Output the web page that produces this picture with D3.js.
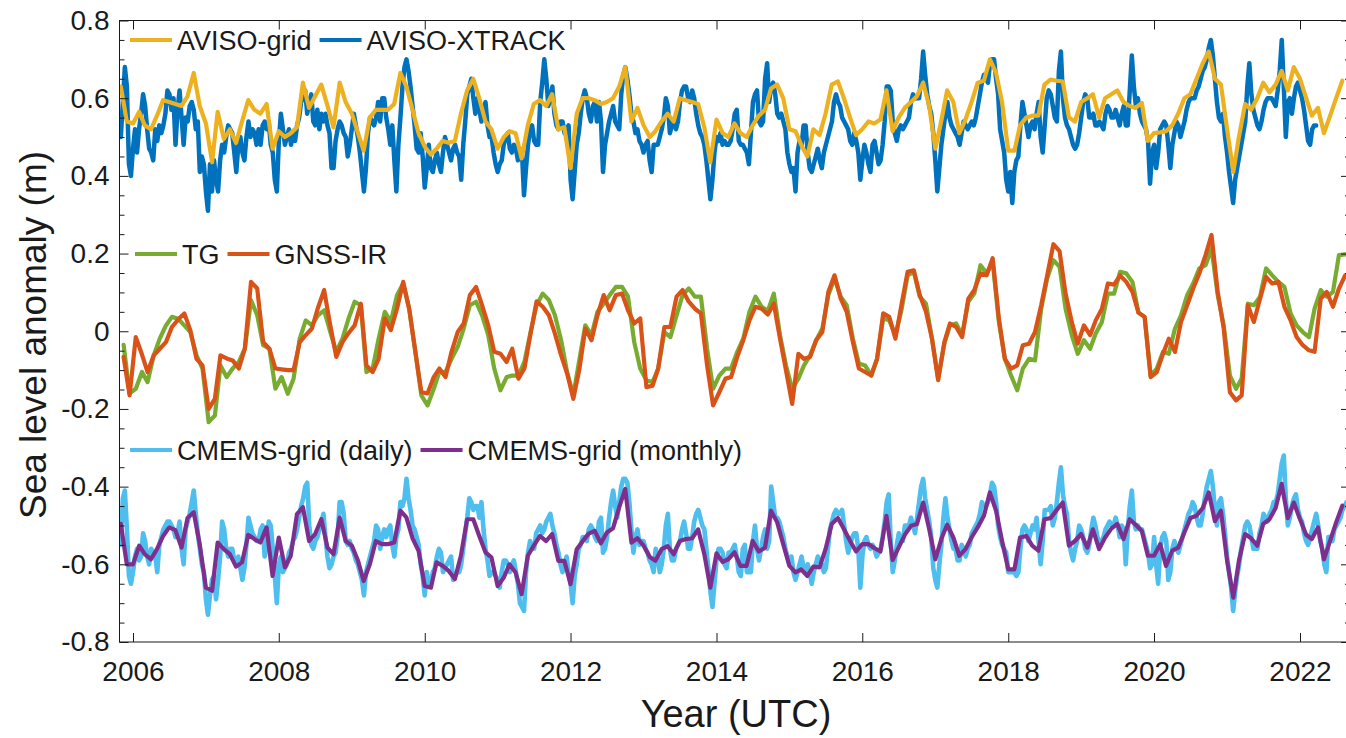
<!DOCTYPE html>
<html>
<head>
<meta charset="utf-8">
<script src="https://cdn.jsdelivr.net/npm/d3@7"></script>
<style>
  body { margin: 0; background: #fff; }
  svg { display: block; }
  text { font-family: "Liberation Sans", Arial, Helvetica, sans-serif; }
</style>
</head>
<body>
<svg id="chart" width="1346" height="738"></svg>
<script>
// ---------------------------------------------------------------------------
// Sea level anomaly series (values in cm, bands offset for display).
// Monthly series start Nov 2005; ~10-day series use a third-of-a-month step.
// ---------------------------------------------------------------------------

// AVISO-grid, monthly (month start)
const avisoGrid = [
  63,54,53.5,56.5,53,52,55.5,59.5,59,58.5,58,60.5,66.5,58,53.5,43.5,56.5,49.5,52,48.5,
  54,59.5,57,56,58.5,47,51.5,50,51,52.5,64,57.5,60.5,63.5,58,52.5,64,59,56,51,
  46.5,55,57,57,57,58.5,66.5,63,57,51,47.5,45.5,47,49,48.5,49,56,62,65,60,
  54,52,47,50,51.5,51,44.5,53,58.5,59.5,58,61,52,52.5,42,56,60,60,59.5,58.5,
  59,60,63,68,54,57.5,53,50,51.5,54,56,54,60,59.5,59,58.5,52.5,43.5,54.5,51,
  50,53.5,51,50,53,55.5,57,62.5,63.5,60,52,51.5,48,45,52,50.5,56,63.5,64.3,60,
  55,50.5,52,54,53.5,54.5,62,51.5,55,57.5,59,60.5,64,58,47,54.5,62,59,51,54.5,
  59,64,64.5,70,66.5,59,46.5,46.5,53,55,55.5,55.5,63.5,64.8,64.5,64.3,55,54,59,60,
  61,55,60,61,62,59,58,57.5,58.8,49,51,51.2,51.5,53,56,60,61,65,69,72,
  65,63.5,52,41,50,58.5,57,60,64,61.5,63.5,67,62,68,65,60,55.5,57.5,51,55.5,
  60,64.5
];

// AVISO-XTRACK, ~10-day
const avisoXtrack = [
  50,59,68,63,43,40,47,52,46,52, 56,61,58,52,47,46,44,52,49,53,
  51,53,56,62,61,57,60,48,57,62, 55,48,55,54,58,59,57,52,54,41,
  45,43,36,31,43,36,44,39,36,44, 48,46,50,53,52,51,46,41,48,50,
  46,44,50,54,50,52,51,48,52,48, 53,54,52,54,48,46,39,36,49,56,
  52,48,50,52,48,51,49,53,55,59, 60,62,56,59,61,54,53,57,52,56,
  54,56,53,51,42,42,49,52,54,53, 51,50,45,48,52,56,53,50,46,41,
  36,42,51,55,54,53,55,59,54,60, 60,55,52,48,53,44,36,48,55,63,
  68,70,67,63,58,53,47,46,51,45,37,
  42,48,42,41,44,46,43,41,46,50, 48,46,44,47,48,46,45,39,48,54,
  61,63,65,60,56,60,57,54,57,59, 53,50,50,46,43,41,43,44,48,50,
  51,47,46,48,47,44,47,46,35,42, 48,52,53,49,48,48,59,64,70,65,
  58,60,63,56,53,52,54,54,51,52, 53,39,34,41,48,51,56,60,62,60,
  56,54,58,59,54,59,54,41,48,51, 54,56,58,54,53,52,61,66,68,65,
  61,56,54,51,52,49,48,46,48,49, 44,41,48,48,48,50,52,55,60,58,
  51,53,54,52,54,59,62,63,63,60, 59,62,60,56,53,51,50,48,44,39,
  34,39,46,50,49,51,48,49,48,48, 49,52,56,57,49,48,48,47,46,43,
  51,59,61,62,54,53,54,65,69,59, 63,64,61,56,55,56,54,52,46,43,
  41,42,36,46,49,48,53,53,46,42, 41,43,45,47,44,42,46,48,50,52,
  54,59,61,59,58,55,54,53,52,49, 48,51,49,46,39,44,48,46,43,41,
  48,49,46,43,44,48,54,63,63,62, 54,51,49,52,53,52,53,54,55,59,
  61,60,60,60,65,72,66,61,58,56, 51,44,36,42,48,52,56,59,55,53,
  52,51,50,48,51,54,53,52,53,54, 53,55,58,61,64,66,65,64,69,70,
  70,65,61,52,49,46,39,36,41,33,
  41,44,45,53,59,56,53,50,53,54,52,
  56,59,50,46,53,60,62,61,58,55, 54,67,72,60,55,53,52,50,48,47,
  48,51,55,59,61,60,55,55,56,53, 53,54,53,52,56,58,57,55,55,57,
  55,53,56,58,53,53,62,71,63,58, 60,56,54,53,52,49,38,46,48,42,
  46,52,53,54,53,48,42,48,51,54, 53,50,52,54,57,59,60,60,60,62,
  63,65,67,68,70,73,75,71,65,59, 55,54,56,50,46,41,37,33,39,42,
  45,48,51,54,63,69,61,57,55,53, 52,54,57,59,60,60,60,59,58,62,
  67,75,63,50,59,60,56,60,63,64,
  62,60,57,53,49,48,52,53,53
];

// Tide gauge, monthly (mid-month)
const tideGauge = [
  -3.5,-16,-14.8,-10.5,-13.1,-6.2,-1.9,1.5,3.7,3.2, 1.5,-0.2,-6.2,-9.6,-23.4,-21.7,-8.8,-11.8,-9.6,-7.9,
  -4.5,8,4.1,-3.6,-4.5,-14.8,-11.8,-16.1,-12.2,-1.9, 2.8,1.5,4.1,5.4,-0.2,-5.3,-1.9,3.2,7.6,6.7,
  -10.5,-9.6,-1.9,5,2.4,9.3,12.3,5.8,-5.3,-16.5, -19.1,-14.8,-10.5,-10.5,-7.1,-4,0.7,6.7,7.6,4.1,
  -1,-9.6,-15.2,-11.8,-11.4,-11.4,-7.9,-0.2,6.7,9.7, 8,4.1,-2.3,-10.5,-16.5,-7.1,1.5,-1,5,7.1,
  9.3,11.4,11.4,8.9,-2.8,-9.6,-12.6,-13.1,-9.6,-0.2, -1.5,4.1,9.3,11,8.9,8.9,-4.5,-14.8,-11.4,-9.6,
  -9.6,-5.3,-1.9,5,8.9,6.3,5.2,9.7,-1,-8.8, -14.8,-12.2,-8.8,-6.2,-2.3,0.7,9.3,13.6,8.9,6.7,
  -1.9,-8.3,-8.8,-11.4,-7.1,3.3,2.8,-1,5.4,14.4, 15.3,8.9,7.1,-1.9,-12.2,-3.2,1.5,2,-1,7.6,
  9.7,17,14.9,17.9,2.4,-7.1,-11.4,-15.2,-9.6,-7.1, -7.5,5.8,13.6,18.3,16.6,5.8,-1,-5.8,-2.3,-4.5,
  -0.6,2.4,9.7,9.7,15.3,14.9,12.7,4.8,3.7,-11.4, -9.6,-5.3,-5.8,0.7,4.1,9.3,12.3,16.2,17,21.3,
  9.3,1.5,-11.4,-14.8,-12.2,7.1,6.7,8.9,16.2,14.4, 12.7,11.4,4.6,1.5,-0.2,-1.5,5.8,10.6,8.9,10.1,
  19.6,19.8
];

// GNSS-IR, monthly (mid-month)
const gnssIR = [
  -6.6,-16.5,-1.5,-6,-10.5,-6.2,-4.5,-2.8,1.1,3, 4.6,0.3,-7.1,-8.8,-20,-17.4,-6.2,-7,-7.5,-9.6,
  -4.5,12.7,11,-2.8,-4.5,-9.6,-9.8,-10,-10,-2.8, -1,0.7,6,10.6,1.5,-6.6,-2.8,-0.5,1.5,7.1,
  -8.8,-10.5,-7.1,3.3,0.3,5.8,12.7,5.8,-5.3,-15.7, -16,-11.8,-9.6,-11.8,-5.3,-0.2,2,9.3,11.4,6.7,
  1.5,-5.3,-5.8,-7.9,-4.5,-12.2,-9.6,-0.6,7.7,6.3, 4.1,-0.6,-6.2,-10.9,-17.4,-9.6,0.7,-2.3,4.1,9.3,
  5.4,9.3,9.7,5.4,2,3.3,-14.4,-14,-9.6,1.1, 1.1,8.9,10.6,7.6,5.8,4.6,-8.8,-19.1,-15.7,-12.2,
  -11.8,-6.6,-2.3,2.8,6.3,5.8,4.3,7.1,-1.9,-10.1, -18.7,-5.8,-7.1,-6.6,-2.3,-0.2,10.1,14.4,8.4,5,
  -2.8,-9.6,-10.5,-11.4,-7.1,4.6,3.7,-1.9,6.7,15.3, 15.7,9.3,5,-1.9,-12.6,-2.8,2,1.1,-1.5,8.4,
  10.6,14.9,14.4,18.8,3.3,-7.1,-9.6,-8.8,-3.6,-3.2, -0.2,6.7,14.4,22.4,20.6,9.7,2.4,-3.2,1.5,-1,
  2.8,5.8,12.3,12,14.4,12.7,10.1,4.8,3.7,-11.8, -10.5,-5.8,-1.9,-5.3,2.4,6.7,11,14.9,19.6,24.8,
  10.1,0.7,-15.7,-17.8,-16.5,6.7,2.4,8.4,14,12.3, 12.7,6.3,2.8,-1.5,-3.6,-4.9,-5.3,8.4,10.1,6.3,
  11,14.4
];

// CMEMS-grid, daily product sampled every third of a month
const cmemsDaily = [
  -55,-43,-41,-51,-63,-65,-62,-58,-56,-59, -58,-52,-54,-58,-60,-56,-57,-58,-62,-55,
  -53,-51,-50,-49,-49,-50,-51,-53,-52,-49, -56,-60,-51,-49,-47,-44,-41,-47,-52,-56,
  -60,-62,-69,-73,-68,-64,-63,-69,-64,-58, -49,-51,-56,-58,-56,-56,-59,-60,-58,-61,
  -64,-61,-55,-48,-50,-52,-53,-54,-54,-51, -50,-58,-55,-49,-50,-56,-63,-70,-60,-58,
  -62,-61,-60,-57,-56,-54,-53,-51,-48,-45, -43,-40,-39,-50,-55,-56,-54,-53,-51,-49,
  -47,-53,-58,-61,-60,-58,-57,-53,-44,-44, -47,-54,-55,-54,-56,-57,-59,-60,-62,-64,
  -68,-62,-60,-58,-56,-54,-50,-51,-56,-53, -51,-53,-51,-50,-55,-58,-53,-51,-44,-45,
  -43,-38,-43,-46,-50,-51,-53,-55,-60,-63,-68,
  -62,-65,-65,-62,-61,-58,-56,-57,-62,-61, -60,-59,-58,-64,-63,-62,-62,-60,-56,-52,
  -48,-43,-44,-46,-45,-45,-48,-44,-51,-56, -59,-63,-62,-62,-63,-64,-66,-62,-59,-59,
  -60,-62,-60,-59,-62,-65,-70,-71,-72,-62, -57,-54,-56,-56,-52,-51,-50,-52,-51,-49,
  -48,-47,-50,-52,-55,-57,-60,-62,-60,-58, -62,-65,-70,-63,-60,-56,-55,-53,-53,-54,
  -51,-50,-51,-53,-54,-49,-48,-57,-56,-53, -48,-44,-41,-45,-48,-44,-40,-38,-38,-39,
  -44,-51,-57,-53,-51,-55,-54,-54,-56,-57, -59,-60,-62,-56,-58,-62,-60,-56,-50,-47,
  -56,-59,-59,-56,-55,-54,-51,-49,-52,-56, -56,-53,-49,-47,-46,-48,-50,-51,-56,-61,
  -67,-71,-65,-59,-56,-56,-57,-60,-61,-57, -57,-56,-55,-58,-62,-63,-56,-55,-62,-62,
  -62,-54,-50,-56,-59,-56,-53,-51,-56,-54, -40,-44,-48,-48,-49,-51,-53,-56,-58,-60,
  -58,-62,-64,-62,-60,-58,-61,-62,-60,-62, -65,-62,-60,-58,-59,-60,-62,-61,-56,-51,
  -49,-47,-46,-47,-47,-46,-50,-54,-57,-55, -53,-52,-52,-56,-66,-58,-54,-53,-55,-56,
  -55,-56,-58,-57,-56,-53,-49,-44,-42,-54, -62,-59,-55,-52,-54,-54,-50,-50,-50,-48,
  -50,-52,-48,-44,-40,-38,-43,-46,-49,-53, -61,-64,-66,-60,-55,-48,-43,-48,-51,-54,
  -56,-56,-59,-59,-55,-56,-58,-56,-55,-52, -51,-50,-49,-47,-44,-45,-45,-44,-42,-39,
  -40,-44,-50,-53,-55,-56,-57,-62,-62,-62,
  -62,-63,-62,-56,-51,-50,-51,-54,-52,-50,-51,
  -48,-54,-60,-54,-46,-46,-46,-45,-50,-48, -44,-39,-35,-42,-45,-47,-54,-57,-59,-56,
  -54,-50,-51,-53,-56,-57,-55,-51,-48,-50, -53,-55,-54,-53,-51,-50,-49,-50,-50,-48,
  -50,-53,-50,-51,-60,-51,-45,-41,-49,-51, -50,-51,-51,-53,-55,-57,-61,-60,-53,-60,
  -65,-56,-53,-52,-54,-64,-62,-56,-54,-56, -57,-55,-53,-51,-49,-47,-46,-44,-45,-48,
  -50,-50,-47,-43,-40,-38,-36,-40,-46,-50, -44,-43,-47,-52,-58,-62,-66,-72,-67,-63,
  -60,-56,-53,-50,-49,-50,-53,-56,-56,-56, -52,-50,-47,-48,-49,-47,-46,-44,-44,-42,
  -38,-34,-32,-43,-50,-48,-45,-43,-42,-46, -48,-49,-52,-54,-55,-53,-51,-49,-47,-50,
  -54,-56,-60,-62,-53,-53,-54,-51,-50,-49,-48,-46,-45,-44
];

// CMEMS-grid, monthly (month start)
const cmemsMonthly = [
  -49.6,-60,-60,-55.2,-57.4,-58.7,-56.1,-52.7,-50.5,-51.2, -55.7,-48.1,-46.6,-54.8,-66,-66.8,-54.4,-56.1,-57.4,-60.6,
  -59.5,-52.4,-53.5,-54.4,-50.5,-63,-53.1,-60.8,-57.8,-47.1, -45.3,-54,-52.2,-48.4,-55.7,-57.4,-48,-54,-55.2,-59.1,
  -64.3,-60,-54,-54.8,-54.8,-54.4,-46.2,-47.9,-53.3,-56.5, -65.6,-66,-59.5,-60.4,-61.7,-63.8,-57.8,-48.4,-48.4,-52.7,
  -56.9,-58.2,-65.6,-63.4,-60,-62.1,-67.7,-57.8,-55.2,-52.7, -54,-52.2,-59.1,-59.1,-65.1,-56.1,-54.1,-52.1,-51.4,-54.6,
  -51.8,-50.7,-45.3,-40.6,-54.4,-53.3,-55.2,-58.1,-59.1,-56.1, -55.3,-57.4,-54,-53.5,-53.3,-51,-57.4,-66,-57.2,-59.4,
  -58.7,-56.9,-60.4,-60.4,-54,-56.7,-55.7,-46.2,-49.2,-54.8, -60.4,-62.1,-61.3,-63,-60.6,-60.8,-56.1,-49.6,-48.1,-50.9,
  -54,-56.7,-54.8,-54.8,-55.8,-56.7,-47.5,-58.9,-55.7,-52.4, -50.1,-49.6,-44.1,-50.9,-58.7,-53.3,-49.8,-53.1,-57.8,-56.1,
  -53.1,-50.5,-47.5,-41.5,-46.2,-54,-61.3,-61.3,-53.1,-52.7, -55.2,-56.5,-48.4,-48.1,-46,-44.1,-55.2,-54,-52.2,-55.7,
  -51,-56.1,-53.1,-50.8,-49.6,-53.5,-48.4,-49.8,-51.4,-57.8, -57.8,-54.8,-60.4,-56.5,-55.7,-51.8,-48.1,-47.5,-45.5,-41.5,
  -48.9,-46.2,-59.1,-68.6,-59.1,-52.2,-53.3,-55.2,-49.6,-48.4, -45.5,-39.3,-48.1,-44.1,-48.4,-52.4,-53.5,-50.5,-58.7,-53.9,
  -49.2,-44.9
];

// Axis ticks and labels
const yTickValues = [-0.8, -0.6, -0.4, -0.2, 0, 0.2, 0.4, 0.6, 0.8];
const yTickLabels = ["-0.8", "-0.6", "-0.4", "-0.2", "0", "0.2", "0.4", "0.6", "0.8"];
const xTickYears  = [2006, 2008, 2010, 2012, 2014, 2016, 2018, 2020, 2022];
const xTickLabels = ["2006", "2008", "2010", "2012", "2014", "2016", "2018", "2020", "2022"];

// Series names and colours
const seriesNames  = ["AVISO-grid", "AVISO-XTRACK", "TG", "GNSS-IR", "CMEMS-grid (daily)", "CMEMS-grid (monthly)"];
const seriesColors = ["#EDB120", "#0072BD", "#77AC30", "#D95319", "#4DBEEE", "#7E2F8E"];

// ---------------------------------------------------------------------------
const svg = d3.select("#chart");
const FONT = '"Liberation Sans", Arial, Helvetica, sans-serif';
const INK = "#1a1a1a";

const L = 119.5, R = 1350;
const xBase = d3.scaleTime()
  .domain([new Date(2006, 0, 1), new Date(2022, 0, 1)])
  .range([133, 1300]);
const x = d3.scaleTime().domain([xBase.invert(L), xBase.invert(R)]).range([L, R]);
const y = d3.scaleLinear().domain([-0.8, 0.8]).range([642, 20.5]);
const T = y(0.8), B = y(-0.8);

// time stamps
const monthStart = k => new Date(2005, 10 + k, 1);
const midMonth   = k => new Date(2005, 10 + k, 15);
const t0 = new Date(2005, 10, 1).getTime();
const thirdMonth = j => new Date(t0 + j * 10.146 * 86400000);

const toPoints = (vals, timeFn) => vals.map((v, i) => ({ t: timeFn(i), v: v / 100 }));

const lineGen = d3.line().x(d => x(d.t)).y(d => y(d.v));

svg.append("defs").append("clipPath").attr("id", "plot-area")
  .append("rect").attr("x", L).attr("y", T).attr("width", R - L).attr("height", B - T);

const plot = svg.append("g").attr("clip-path", "url(#plot-area)");

const series = [
  { data: toPoints(avisoXtrack, thirdMonth), color: seriesColors[1], w: 4.5 },
  { data: toPoints(avisoGrid, monthStart),   color: seriesColors[0], w: 4.2 },
  { data: toPoints(tideGauge, midMonth),     color: seriesColors[2], w: 4.2 },
  { data: toPoints(gnssIR, midMonth),        color: seriesColors[3], w: 4.2 },
  { data: toPoints(cmemsDaily, thirdMonth),  color: seriesColors[4], w: 4.6 },
  { data: toPoints(cmemsMonthly, monthStart),color: seriesColors[5], w: 4.2 }
];

series.forEach(s => {
  plot.append("path")
    .datum(s.data)
    .attr("fill", "none")
    .attr("stroke", s.color)
    .attr("stroke-width", s.w)
    .attr("stroke-linejoin", "round")
    .attr("stroke-linecap", "round")
    .attr("d", lineGen);
});

// ---------------------------------------------------------------------------
// Axes (ticks pointing inward, box around the plot)
const styleAxis = g => {
  g.select(".domain").remove();
  g.attr("font-family", FONT).attr("font-size", 28).style("color", INK);
  g.selectAll(".tick line").attr("stroke-width", 1);
};

const xTickDates = xTickYears.map(yr => new Date(yr, 0, 1));

svg.append("g").attr("transform", `translate(0,${B})`)
  .call(d3.axisBottom(x).tickValues(xTickDates).tickFormat((d, i) => xTickLabels[i])
    .tickSizeInner(-9).tickSizeOuter(0).tickPadding(19))
  .call(styleAxis);

svg.append("g").attr("transform", `translate(0,${T})`)
  .call(d3.axisTop(x).tickValues(xTickDates).tickFormat("")
    .tickSizeInner(-9).tickSizeOuter(0))
  .call(styleAxis);

svg.append("g").attr("transform", `translate(${L},0)`)
  .call(d3.axisLeft(y).tickValues(yTickValues).tickFormat((d, i) => yTickLabels[i])
    .tickSizeInner(-9).tickSizeOuter(0).tickPadding(10))
  .call(styleAxis);

svg.append("g").attr("transform", `translate(${R},0)`)
  .call(d3.axisRight(y).tickValues(yTickValues).tickFormat("")
    .tickSizeInner(-9).tickSizeOuter(0))
  .call(styleAxis);

// minor y ticks every 0.05
const minorY = d3.range(-16, 17).map(n => n * 0.05).filter(v => Math.abs(Math.round(v * 5) - v * 5) > 1e-6);
svg.append("g").attr("transform", `translate(${L},0)`)
  .call(d3.axisLeft(y).tickValues(minorY).tickFormat("").tickSizeInner(-5).tickSizeOuter(0))
  .call(styleAxis);
svg.append("g").attr("transform", `translate(${R},0)`)
  .call(d3.axisRight(y).tickValues(minorY).tickFormat("").tickSizeInner(-5).tickSizeOuter(0))
  .call(styleAxis);

svg.append("rect")
  .attr("x", L).attr("y", T).attr("width", R - L).attr("height", B - T)
  .attr("fill", "none").attr("stroke", INK).attr("stroke-width", 1);

// axis titles
svg.append("text")
  .attr("x", 736).attr("y", 727)
  .attr("text-anchor", "middle")
  .attr("font-size", 38).attr("fill", INK)
  .text("Year (UTC)");

svg.append("text")
  .attr("transform", "translate(33,335) rotate(-90)")
  .attr("text-anchor", "middle").attr("dominant-baseline", "central")
  .attr("font-size", 37).attr("fill", INK)
  .text("Sea level anomaly (m)");

// ---------------------------------------------------------------------------
// Legends, one per band
function legend(items, x0, yLine) {
  const g = svg.append("g");
  let cx = x0;
  items.forEach(idx => {
    g.append("line")
      .attr("x1", cx).attr("x2", cx + 42).attr("y1", yLine).attr("y2", yLine)
      .attr("stroke", seriesColors[idx]).attr("stroke-width", 4);
    const t = g.append("text")
      .attr("x", cx + 47).attr("y", yLine + 9.5)
      .attr("font-size", 27).attr("fill", INK)
      .text(seriesNames[idx]);
    cx += 47 + t.node().getComputedTextLength() + 8;
  });
}
legend([0, 1], 130, 40);
legend([2, 3], 135, 254);
legend([4, 5], 130, 450);
</script>
</body>
</html>
